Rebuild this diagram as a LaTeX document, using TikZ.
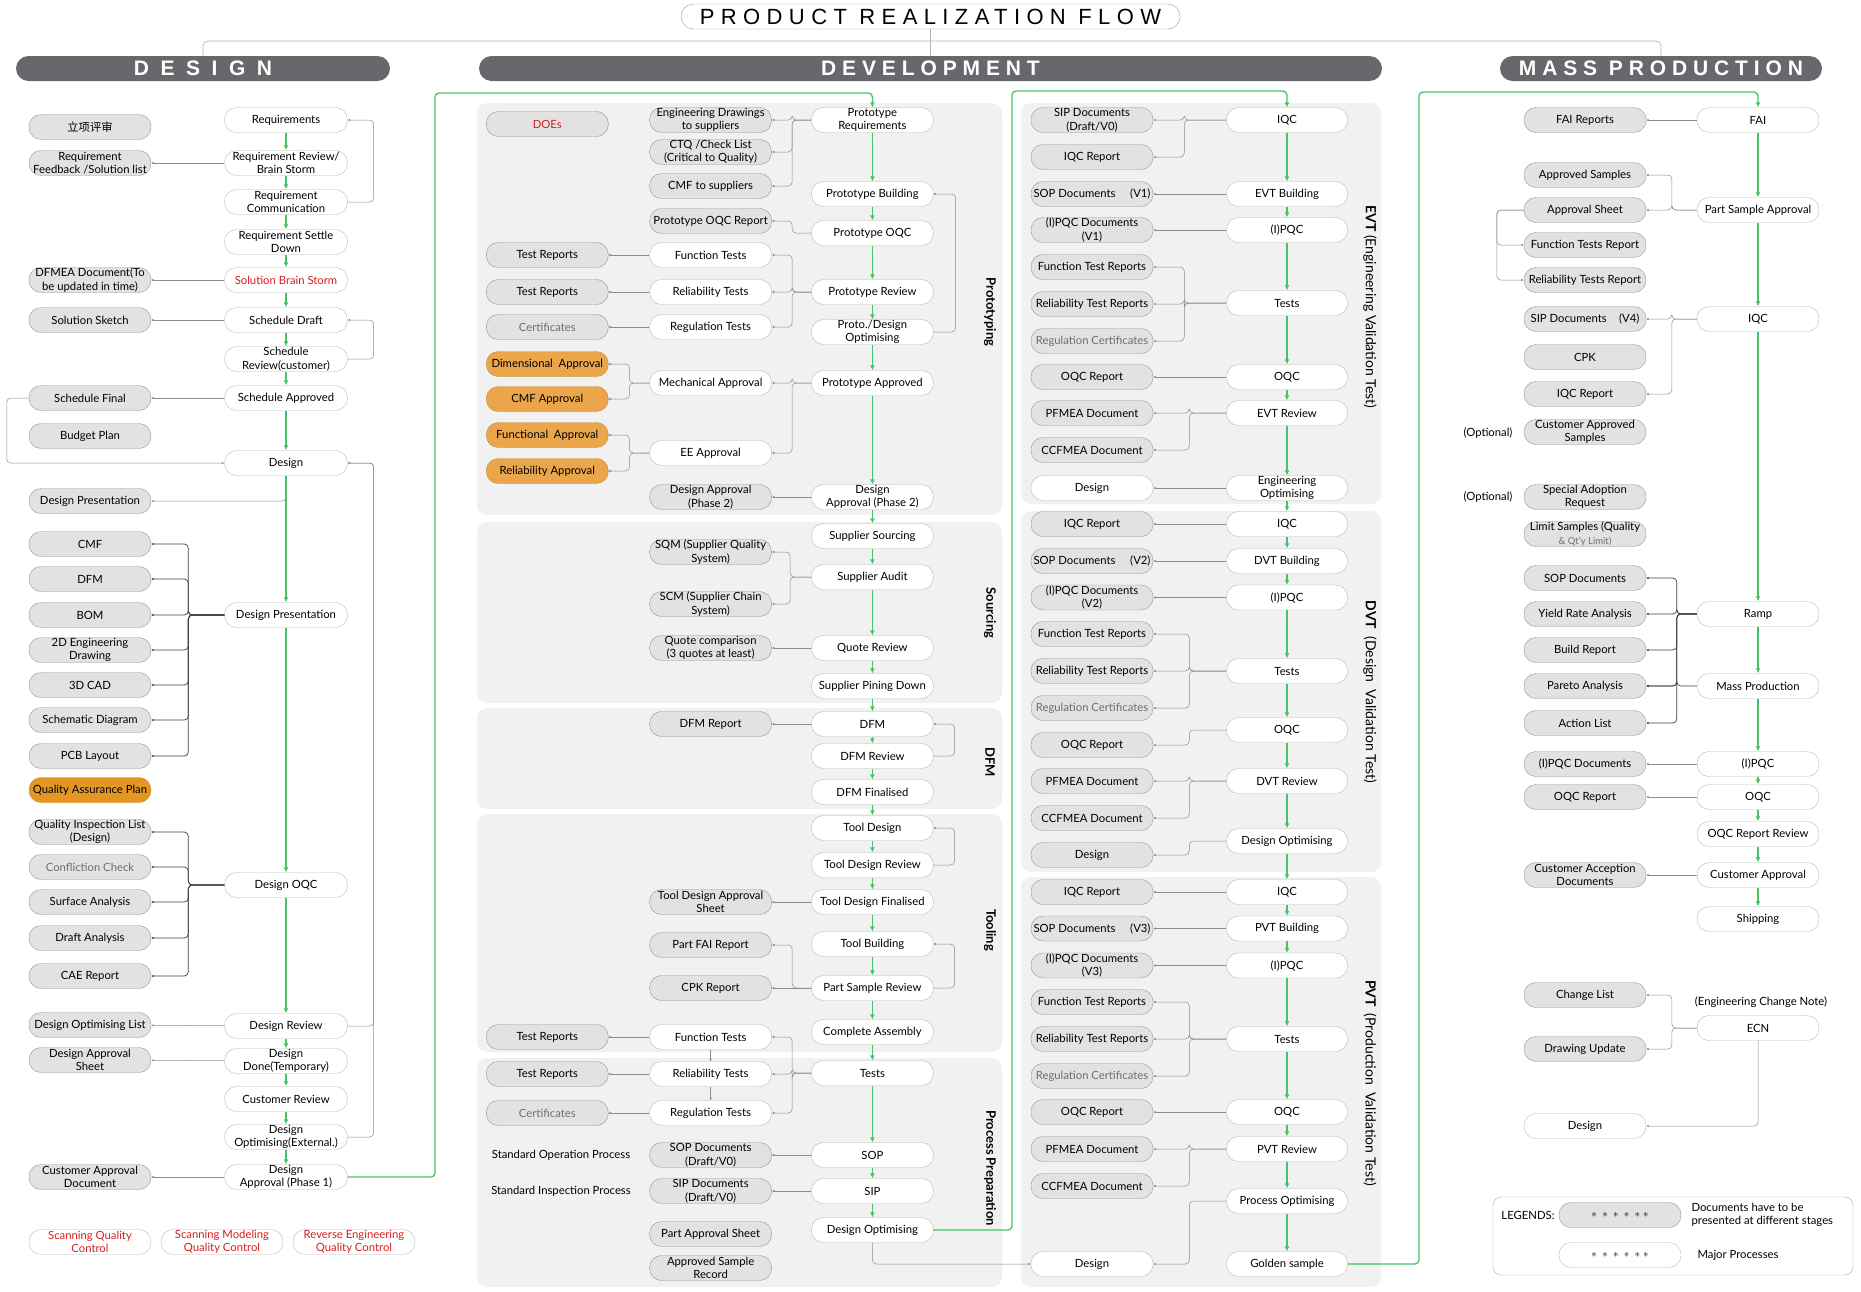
\documentclass[tikz,border=0pt]{standalone}
\usepackage{fontspec}
\setmainfont{Lato}
\newfontfamily\cjk{Noto Sans CJK SC}
\newfontfamily\titlefont[LetterSpace=29]{Liberation Sans}
\newfontfamily\bandfont[LetterSpace=28]{Liberation Sans}
\newfontfamily\bandwide[LetterSpace=55]{Liberation Sans}
\usepackage{tikz}
\usetikzlibrary{positioning,arrows.meta,calc}
\definecolor{bargray}{RGB}{104,103,108}
\definecolor{docgray}{RGB}{226,226,226}
\definecolor{docedge}{RGB}{150,150,150}
\definecolor{procedge}{RGB}{185,185,185}
\definecolor{panelgray}{RGB}{241,241,241}
\definecolor{flowgreen}{RGB}{70,195,100}
\definecolor{approve}{RGB}{235,165,75}
\definecolor{qaorange}{RGB}{228,150,35}
\definecolor{redtxt}{RGB}{215,30,30}
\definecolor{graytxt}{RGB}{110,110,110}
\tikzset{
  >={Latex[length=2mm]},
  proc/.style={draw=procedge, fill=white, rounded corners=12pt, align=center,
    inner xsep=1pt, inner ysep=0pt, minimum height=25pt, minimum width=#1},
  proc/.default=122pt,
  docu/.style={proc=#1, fill=docgray, draw=docedge},
  docu/.default=122pt,
  appro/.style={proc=#1, fill=approve, draw=approve!85!black},
  appro/.default=122pt,
  band/.style={fill=bargray, text=white, rounded corners=12.5pt, minimum height=25pt,
    inner sep=0pt, font=\fontsize{21}{21}\selectfont\bfseries},
  hdr/.style={draw=black!30, line width=0.6pt, rounded corners=5pt},
  panel/.style={fill=panelgray, rounded corners=10pt},
  stage/.style={rotate=-90, font=\fontsize{14}{16}\selectfont},
  phase/.style={rotate=-90, font=\fontsize{13}{15}\selectfont\bfseries},
  flow/.style={-{Latex[length=5pt,width=5pt]}, line width=1.3pt, draw=flowgreen, rounded corners=4pt},
  link/.style={-{Latex[length=2.5pt,width=2.5pt]}, line width=0.5pt, draw=black!45, rounded corners=4pt},
  fork/.style={link, draw=black!75, line width=0.7pt},
}

\begin{document}
\begin{tikzpicture}[x=1pt, y=-1pt, font=\fontsize{11.3}{13.5}\selectfont]
  \useasboundingbox (0,0) rectangle (1861,1291);
  % Title and phase bands
  \node[draw=black!40, fill=white, rounded corners=12.5pt, minimum width=499pt, minimum height=25pt, inner sep=0pt]
    (title) at (930.5,16.5) {\titlefont\fontsize{22}{22}\selectfont PRODUCT REALIZATION FLOW};
  \node[band, minimum width=374pt] (desbar) at (203,68.5) {\bandwide DESIGN};
  \node[band, minimum width=903pt] (devbar) at (930.5,68.5) {\bandfont DEVELOPMENT};
  \node[band, minimum width=322pt] (mpbar)  at (1661,68.5) {\bandfont MASS PRODUCTION};
  \coordinate (hline) at (930.5,41);
  \draw[hdr] (desbar.north) |- (hline) -| (mpbar.north);
  \draw[hdr] (title.south) -- (title.south |- devbar.north);

  % Panels
  \fill[panel] (477,103) rectangle (1002,515);
  \fill[panel] (477,522) rectangle (1002,703);
  \fill[panel] (477,708) rectangle (1002,809);
  \fill[panel] (477,814) rectangle (1002,1052);
  \fill[panel] (477,1058) rectangle (1002,1287);
  \fill[panel] (1021,103) rectangle (1381,504);
  \fill[panel] (1021,511) rectangle (1381,872);
  \fill[panel] (1021,877) rectangle (1381,1287);

  % Design : major processes
  \node[proc=123pt] (req)      at (286,120)  {Requirements};
  \node[proc=123pt] (reqrev)   at (286,163)  {Requirement Review/\\Brain Storm};
  \node[proc=123pt] (reqcom)   at (286,202)  {Requirement\\Communication};
  \node[proc=123pt] (reqset)   at (286,242)  {Requirement Settle\\Down};
  \node[proc=123pt, text=redtxt] (solbs) at (286,280) {Solution Brain Storm};
  \node[proc=123pt] (schdraft) at (286,320)  {Schedule Draft};
  \node[proc=123pt] (schrev)   at (286,359)  {Schedule\\Review(customer)};
  \node[proc=123pt] (schapp)   at (286,398)  {Schedule Approved};
  \node[proc=123pt] (design)   at (286,463)  {Design};
  \node[proc=123pt] (dpres)    at (286,615)  {Design Presentation};
  \node[proc=123pt] (doqc)     at (286,885)  {Design OQC};
  \node[proc=123pt] (drev)     at (286,1026) {Design Review};
  \node[proc=123pt] (ddone)    at (286,1061) {Design\\Done(Temporary)};
  \node[proc=123pt] (custrev)  at (286,1099) {Customer Review};
  \node[proc=123pt] (doptext)  at (286,1137) {Design\\Optimising(External.)};
  \node[proc=123pt] (dapp1)    at (286,1177) {Design\\Approval (Phase 1)};
  % Design : documents
  \node[docu] (lxps)     at (90,127)  {\cjk 立项评审};
  \node[docu] (reqfb)    at (90,163)  {Requirement\\Feedback /Solution list};
  \node[docu] (dfmea)    at (90,280)  {DFMEA Document(To\\be updated in time)};
  \node[docu] (solsk)    at (90,320)  {Solution Sketch};
  \node[docu] (schfin)   at (90,398)  {Schedule Final};
  \node[docu] (budget)   at (90,436)  {Budget Plan};
  \node[docu] (dpresdoc) at (90,501)  {Design Presentation};
  \node[docu] (cmf)      at (90,544)  {CMF};
  \node[docu] (dfm)      at (90,579)  {DFM};
  \node[docu] (bom)      at (90,615)  {BOM};
  \node[docu] (engdraw)  at (90,650)  {2D Engineering\\Drawing};
  \node[docu] (cad)      at (90,685)  {3D CAD};
  \node[docu] (schem)    at (90,720)  {Schematic Diagram};
  \node[docu] (pcb)      at (90,756)  {PCB Layout};
  \node[appro, fill=qaorange] (qap) at (90,790) {Quality Assurance Plan};
  \node[docu] (qil)      at (90,832)  {Quality Inspection List\\(Design)};
  \node[docu, text=graytxt] (confl) at (90,867) {Confliction Check};
  \node[docu] (surf)     at (90,902)  {Surface Analysis};
  \node[docu] (draft)    at (90,938)  {Draft Analysis};
  \node[docu] (cae)      at (90,976)  {CAE Report};
  \node[docu] (doptl)    at (90,1025) {Design Optimising List};
  \node[docu] (dappsh)   at (90,1060) {Design Approval\\Sheet};
  \node[docu] (custdoc)  at (90,1177) {Customer Approval\\Document};
  \node[proc, text=redtxt] (sqc)  at (90,1242)  {Scanning Quality\\Control};
  \node[proc, text=redtxt] (smqc) at (222,1242) {Scanning Modeling\\Quality Control};
  \node[proc, text=redtxt] (reqc) at (354,1242) {Reverse Engineering\\Quality Control};
  % Design : connectors
  \draw[flow] (req) -- (reqrev);
  \draw[flow] (reqrev) -- (reqcom);
  \draw[flow] (reqcom) -- (reqset);
  \draw[flow] (reqset) -- (solbs);
  \draw[flow] (solbs) -- (schdraft);
  \draw[flow] (schdraft) -- (schrev);
  \draw[flow] (schrev) -- (schapp);
  \draw[flow] (schapp) -- (design);
  \draw[link] (design.south) |- (dpresdoc.east);
  \draw[flow] (design) -- (dpres);
  \draw[flow] (dpres) -- (doqc);
  \draw[flow] (doqc) -- (drev);
  \draw[flow] (drev) -- (ddone);
  \draw[flow] (ddone) -- (custrev);
  \draw[flow] (custrev) -- (doptext);
  \draw[flow] (doptext) -- (dapp1);
  \draw[link] (reqrev) -- (reqfb);
  \draw[link] (reqcom.east) -- ++(26,0) |- (req.east);
  \draw[link] (solbs) -- (dfmea);
  \draw[link] (schdraft) -- (solsk);
  \draw[link] (schrev.east) -- ++(26,0) |- (schdraft.east);
  \draw[link] (schapp) -- (schfin);
  \draw[link] (schfin.west) -- ++(-22,0) |- (design.west);
  \draw[link] (drev.east) -- ++(26,0) |- (design.east);
  \draw[link] (doptext.east) -- ++(26,0) |- (design.east);
  \draw[fork] (dpres.west) -- ++(-36,0) |- (cmf.east);
  \draw[fork] (dpres.west) -- ++(-36,0) |- (dfm.east);
  \draw[fork] (dpres.west) -- ++(-36,0) |- (bom.east);
  \draw[fork] (dpres.west) -- ++(-36,0) |- (engdraw.east);
  \draw[fork] (dpres.west) -- ++(-36,0) |- (cad.east);
  \draw[fork] (dpres.west) -- ++(-36,0) |- (schem.east);
  \draw[fork] (dpres.west) -- ++(-36,0) |- (pcb.east);
  \draw[fork] (doqc.west) -- ++(-36,0) |- (qil.east);
  \draw[fork] (doqc.west) -- ++(-36,0) |- (confl.east);
  \draw[fork] (doqc.west) -- ++(-36,0) |- (surf.east);
  \draw[fork] (doqc.west) -- ++(-36,0) |- (draft.east);
  \draw[fork] (doqc.west) -- ++(-36,0) |- (cae.east);
  \draw[link] (drev) -- (doptl);
  \draw[link] (ddone) -- (dappsh);
  \draw[link] (dapp1) -- (custdoc);

  % Development : prototyping to process preparation
  \node[proc] (preq)   at (872.4,120)  {Prototype\\Requirements};
  \node[proc] (pbuild) at (872.4,194)  {Prototype Building};
  \node[proc] (poqc)   at (872.4,233)  {Prototype OQC};
  \node[proc] (prev)   at (872.4,292)  {Prototype Review};
  \node[proc] (popt)   at (872.4,332)  {Proto./Design\\Optimising};
  \node[proc] (pappr)  at (872.4,383)  {Prototype Approved};
  \node[proc] (dapp2)  at (872.4,497)  {Design\\Approval (Phase 2)};
  \node[proc] (ssrc)   at (872.4,536)  {Supplier Sourcing};
  \node[proc] (saud)   at (872.4,577)  {Supplier Audit};
  \node[proc] (qrev)   at (872.4,648)  {Quote Review};
  \node[proc] (spin)   at (872.4,686)  {Supplier Pining Down};
  \node[proc] (dfmm)   at (872.4,724)  {DFM};
  \node[proc] (dfmrev) at (872.4,756)  {DFM Review};
  \node[proc] (dfmfin) at (872.4,792)  {DFM Finalised};
  \node[proc] (tdes)   at (872.4,828)  {Tool Design};
  \node[proc] (tdrev)  at (872.4,865)  {Tool Design Review};
  \node[proc] (tdfin)  at (872.4,902)  {Tool Design Finalised};
  \node[proc] (tbuild) at (872.4,944)  {Tool Building};
  \node[proc] (psrev)  at (872.4,988)  {Part Sample Review};
  \node[proc] (cassy)  at (872.4,1032) {Complete Assembly};
  \node[proc] (ptests) at (872.4,1073) {Tests};
  \node[proc] (sop)    at (872.4,1155) {SOP};
  \node[proc] (sip)    at (872.4,1191) {SIP};
  \node[proc] (devopt) at (872.4,1230) {Design Optimising};
  \node[docu] (engdr)   at (710.6,120)  {Engineering Drawings\\to suppliers};
  \node[docu] (ctq)     at (710.6,152)  {CTQ /Check List\\(Critical to Quality)};
  \node[docu] (cmfsup)  at (710.6,186)  {CMF to suppliers};
  \node[docu] (poqcrep) at (710.6,221)  {Prototype OQC Report};
  \node[proc] (pfunc)   at (710.6,255)  {Function Tests};
  \node[proc] (preli)   at (710.6,292)  {Reliability Tests};
  \node[proc] (preg)    at (710.6,327)  {Regulation Tests};
  \node[proc] (mecha)   at (710.6,383)  {Mechanical Approval};
  \node[proc] (eeapp)   at (710.6,453)  {EE Approval};
  \node[docu] (dapp2doc) at (710.6,497) {Design Approval\\(Phase 2)};
  \node[docu] (sqm)     at (710.6,552)  {SQM (Supplier Quality\\System)};
  \node[docu] (scm)     at (710.6,604)  {SCM (Supplier Chain\\System)};
  \node[docu] (quotec)  at (710.6,648)  {Quote comparison\\(3 quotes at least)};
  \node[docu] (dfmrep)  at (710.6,724)  {DFM Report};
  \node[docu] (tdsheet) at (710.6,902)  {Tool Design Approval\\Sheet};
  \node[docu] (fairep)  at (710.6,945)  {Part FAI Report};
  \node[docu] (cpkrep)  at (710.6,988)  {CPK Report};
  \node[proc] (tfunc)   at (710.6,1037) {Function Tests};
  \node[proc] (treli)   at (710.6,1074) {Reliability Tests};
  \node[proc] (treg)    at (710.6,1113) {Regulation Tests};
  \node[docu] (sopdoc)  at (710.6,1155) {SOP Documents\\(Draft/V0)};
  \node[docu] (sipdoc)  at (710.6,1191) {SIP Documents\\(Draft/V0)};
  \node[docu] (pasheet) at (710.6,1234) {Part Approval Sheet};
  \node[docu] (asrec)   at (710.6,1268) {Approved Sample\\Record};
  \node[docu, text=redtxt]  (does)  at (547.3,124)  {DOEs};
  \node[docu] (ptr1)  at (547.3,255)  {Test Reports};
  \node[docu] (ptr2)  at (547.3,292)  {Test Reports};
  \node[docu, text=graytxt] (pcert) at (547.3,327)  {Certificates};
  \node[appro] (dimap) at (547.3,364) {Dimensional\ \ Approval};
  \node[appro] (cmfap) at (547.3,399) {CMF Approval};
  \node[appro] (funap) at (547.3,435) {Functional\ \ Approval};
  \node[appro] (relap) at (547.3,471) {Reliability Approval};
  \node[docu] (ttr1)  at (547.3,1037) {Test Reports};
  \node[docu] (ttr2)  at (547.3,1074) {Test Reports};
  \node[docu, text=graytxt] (tcert) at (547.3,1113) {Certificates};
  \node (soptxt) at (561,1155) {Standard Operation Process};
  \node (siptxt) at (561,1191) {Standard Inspection Process};
  \node[phase] (lproto) at (990,312)  {Prototyping};
  \node[phase] (lsrc)   at (990,613)  {Sourcing};
  \node[phase] (ldfm)   at (990,762)  {DFM};
  \node[phase] (ltool)  at (990,930)  {Tooling};
  \node[phase] (lprep)  at (990,1168) {Process Preparation};
  % Development : connectors
  \coordinate (g1) at (435,93);
  \draw[flow] (dapp1.east) -| (g1) -| (preq.north);
  \draw[flow] (preq) -- (pbuild);
  \draw[flow] (pbuild) -- (poqc);
  \draw[flow] (poqc) -- (prev);
  \draw[flow] (prev) -- (popt);
  \draw[flow] (popt) -- (pappr);
  \draw[flow] (pappr) -- (dapp2);
  \draw[flow] (dapp2) -- (ssrc);
  \draw[flow] (ssrc) -- (saud);
  \draw[flow] (saud) -- (qrev);
  \draw[flow] (qrev) -- (spin);
  \draw[flow] (spin) -- (dfmm);
  \draw[flow] (dfmm) -- (dfmrev);
  \draw[flow] (dfmrev) -- (dfmfin);
  \draw[flow] (dfmfin) -- (tdes);
  \draw[flow] (tdes) -- (tdrev);
  \draw[flow] (tdrev) -- (tdfin);
  \draw[flow] (tdfin) -- (tbuild);
  \draw[flow] (tbuild) -- (psrev);
  \draw[flow] (psrev) -- (cassy);
  \draw[flow] (cassy) -- (ptests);
  \draw[flow] (ptests) -- (sop);
  \draw[flow] (sop) -- (sip);
  \draw[flow] (sip) -- (devopt);
  \draw[link] (preq.west) -- ++(-19,0) |- (engdr.east);
  \draw[link] (preq.west) -- ++(-19,0) |- (ctq.east);
  \draw[link] (preq.west) -- ++(-19,0) |- (cmfsup.east);
  \draw[link] (poqc.west) -- ++(-19,0) |- (poqcrep.east);
  \draw[link] (prev.west) -- ++(-19,0) |- (pfunc.east);
  \draw[link] (prev.west) -- ++(-19,0) |- (preli.east);
  \draw[link] (prev.west) -- ++(-19,0) |- (preg.east);
  \draw[link] (pfunc) -- (ptr1);
  \draw[link] (preli) -- (ptr2);
  \draw[link] (preg) -- (pcert);
  \draw[link] (popt.east) -- ++(22,0) |- (pbuild.east);
  \draw[link] (pappr.west) -- ++(-19,0) |- (mecha.east);
  \draw[link] (pappr.west) -- ++(-19,0) |- (eeapp.east);
  \draw[link] (mecha.west) -- ++(-20,0) |- (dimap.east);
  \draw[link] (mecha.west) -- ++(-20,0) |- (cmfap.east);
  \draw[link] (eeapp.west) -- ++(-20,0) |- (funap.east);
  \draw[link] (eeapp.west) -- ++(-20,0) |- (relap.east);
  \draw[link] (dapp2) -- (dapp2doc);
  \draw[link] (saud.west) -- ++(-21,0) |- (sqm.east);
  \draw[link] (saud.west) -- ++(-21,0) |- (scm.east);
  \draw[link] (qrev) -- (quotec);
  \draw[link] (dfmm) -- (dfmrep);
  \draw[link] (dfmrev.east) -- ++(21,0) |- (dfmm.east);
  \draw[link] (tdrev.east) -- ++(21,0) |- (tdes.east);
  \draw[link] (tdfin) -- (tdsheet);
  \draw[link] (psrev.west) -- ++(-19,0) |- (fairep.east);
  \draw[link] (psrev) -- (cpkrep);
  \draw[link] (psrev.east) -- ++(21,0) |- (tbuild.east);
  \draw[link] (ptests.west) -- ++(-19,0) |- (tfunc.east);
  \draw[link] (ptests.west) -- ++(-19,0) |- (treli.east);
  \draw[link] (ptests.west) -- ++(-19,0) |- (treg.east);
  \draw[link] (tfunc) -- (treli);
  \draw[link] (treli) -- (treg);
  \draw[link] (tfunc) -- (ttr1);
  \draw[link] (treli) -- (ttr2);
  \draw[link] (treg) -- (tcert);
  \draw[link] (sop) -- (sopdoc);
  \draw[link] (sip) -- (sipdoc);

  % Development : EVT / DVT / PVT
  \node[proc=121pt] (eviqc)   at (1287,120) {IQC};
  \node[proc=121pt] (evbuild) at (1287,194) {EVT Building};
  \node[proc=121pt] (evipqc)  at (1287,230) {(I)PQC};
  \node[proc=121pt] (evtests) at (1287,303) {Tests};
  \node[proc=121pt] (evoqc)   at (1287,377) {OQC};
  \node[proc=121pt] (evrev)   at (1287,413) {EVT Review};
  \node[proc=121pt] (evopt)   at (1287,488) {Engineering\\Optimising};
  \node[docu] (evsip)    at (1092,120) {SIP Documents\\(Draft/V0)};
  \node[docu] (eviqcr)   at (1092,157) {IQC Report};
  \node[docu] (evsop)    at (1092,194) {SOP Documents\hspace{1.3em}(V1)};
  \node[docu] (evipqcd)  at (1092,230) {(I)PQC Documents\\(V1)};
  \node[docu] (evftr)    at (1092,267) {Function Test Reports};
  \node[docu] (evrtr)    at (1092,304) {Reliability Test Reports};
  \node[docu, text=graytxt] (evcert) at (1092,341) {Regulation Certificates};
  \node[docu] (evoqcr)   at (1092,377) {OQC Report};
  \node[docu] (evpfmea)  at (1092,413) {PFMEA Document};
  \node[docu] (evccf)    at (1092,450) {CCFMEA Document};
  \node[proc] (evdesign) at (1092,488) {Design};
  \node[proc=121pt] (dviqc)   at (1287,524)   {IQC};
  \node[proc=121pt] (dvbuild) at (1287,561)   {DVT Building};
  \node[proc=121pt] (dvipqc)  at (1287,597.5) {(I)PQC};
  \node[proc=121pt] (dvtests) at (1287,671)   {Tests};
  \node[proc=121pt] (dvoqc)   at (1287,730)   {OQC};
  \node[proc=121pt] (dvrev)   at (1287,781)   {DVT Review};
  \node[proc=121pt] (dvopt)   at (1287,841)   {Design Optimising};
  \node[docu] (dviqcr)   at (1092,524)   {IQC Report};
  \node[docu] (dvsop)    at (1092,561)   {SOP Documents\hspace{1.3em}(V2)};
  \node[docu] (dvipqcd)  at (1092,597.5) {(I)PQC Documents\\(V2)};
  \node[docu] (dvftr)    at (1092,634)   {Function Test Reports};
  \node[docu] (dvrtr)    at (1092,671)   {Reliability Test Reports};
  \node[docu, text=graytxt] (dvcert) at (1092,708) {Regulation Certificates};
  \node[docu] (dvoqcr)   at (1092,745)   {OQC Report};
  \node[docu] (dvpfmea)  at (1092,781)   {PFMEA Document};
  \node[docu] (dvccf)    at (1092,818)   {CCFMEA Document};
  \node[docu] (dvdesign) at (1092,855)   {Design};
  \node[proc=121pt] (pviqc)   at (1287,892)    {IQC};
  \node[proc=121pt] (pvbuild) at (1287,928.5)  {PVT Building};
  \node[proc=121pt] (pvipqc)  at (1287,965.5)  {(I)PQC};
  \node[proc=121pt] (pvtests) at (1287,1039)   {Tests};
  \node[proc=121pt] (pvoqc)   at (1287,1112)   {OQC};
  \node[proc=121pt] (pvrev)   at (1287,1149)   {PVT Review};
  \node[proc=121pt] (pvopt)   at (1287,1201)   {Process Optimising};
  \node[proc=121pt] (golden)  at (1287,1264)   {Golden sample};
  \node[docu] (pviqcr)   at (1092,892)    {IQC Report};
  \node[docu] (pvsop)    at (1092,928.5)  {SOP Documents\hspace{1.3em}(V3)};
  \node[docu] (pvipqcd)  at (1092,965.5)  {(I)PQC Documents\\(V3)};
  \node[docu] (pvftr)    at (1092,1002)   {Function Test Reports};
  \node[docu] (pvrtr)    at (1092,1039)   {Reliability Test Reports};
  \node[docu, text=graytxt] (pvcert) at (1092,1076) {Regulation Certificates};
  \node[docu] (pvoqcr)   at (1092,1112)   {OQC Report};
  \node[docu] (pvpfmea)  at (1092,1149)   {PFMEA Document};
  \node[docu] (pvccf)    at (1092,1186)   {CCFMEA Document};
  \node[proc] (pvdesign) at (1092,1264)   {Design};
  \node[stage] (levt) at (1370,307)  {\textbf{EVT} (Engineering Validation Test)};
  \node[stage] (ldvt) at (1370,692)  {\textbf{DVT}\ \ (Design\ \ Validation Test)};
  \node[stage] (lpvt) at (1370,1083) {\textbf{PVT}\ \ (Production\ \ Validation Test)};
  % EVT / DVT / PVT : connectors
  \coordinate (g2) at (1012,91);
  \draw[flow] (devopt.east) -| (g2) -| (eviqc.north);
  \draw[link] (devopt.south) |- (pvdesign.west);
  \draw[flow] (eviqc) -- (evbuild);
  \draw[flow] (evbuild) -- (evipqc);
  \draw[flow] (evipqc) -- (evtests);
  \draw[flow] (evtests) -- (evoqc);
  \draw[flow] (evoqc) -- (evrev);
  \draw[flow] (evrev) -- (evopt);
  \draw[flow] (evopt) -- (dviqc);
  \draw[flow] (dviqc) -- (dvbuild);
  \draw[flow] (dvbuild) -- (dvipqc);
  \draw[flow] (dvipqc) -- (dvtests);
  \draw[flow] (dvtests) -- (dvoqc);
  \draw[flow] (dvoqc) -- (dvrev);
  \draw[flow] (dvrev) -- (dvopt);
  \draw[flow] (dvopt) -- (pviqc);
  \draw[flow] (pviqc) -- (pvbuild);
  \draw[flow] (pvbuild) -- (pvipqc);
  \draw[flow] (pvipqc) -- (pvtests);
  \draw[flow] (pvtests) -- (pvoqc);
  \draw[flow] (pvoqc) -- (pvrev);
  \draw[flow] (pvrev) -- (pvopt);
  \draw[flow] (pvopt) -- (golden);
  \draw[link] (eviqc.west) -- ++(-42,0) |- (evsip.east);
  \draw[link] (eviqc.west) -- ++(-42,0) |- (eviqcr.east);
  \draw[link] (evbuild) -- (evsop);
  \draw[link] (evipqc) -- (evipqcd);
  \draw[link] (evtests.west) -- ++(-42,0) |- (evftr.east);
  \draw[link] (evtests.west) -- ++(-42,0) |- (evrtr.east);
  \draw[link] (evtests.west) -- ++(-42,0) |- (evcert.east);
  \draw[link] (evoqc) -- (evoqcr);
  \draw[link] (evrev.west) -- ++(-37,0) |- (evpfmea.east);
  \draw[link] (evrev.west) -- ++(-37,0) |- (evccf.east);
  \draw[link] (evopt) -- (evdesign);
  \draw[link] (dviqc) -- (dviqcr);
  \draw[link] (dvbuild) -- (dvsop);
  \draw[link] (dvipqc) -- (dvipqcd);
  \draw[link] (dvtests.west) -- ++(-37,0) |- (dvftr.east);
  \draw[link] (dvtests.west) -- ++(-37,0) |- (dvrtr.east);
  \draw[link] (dvtests.west) -- ++(-37,0) |- (dvcert.east);
  \draw[link] (dvoqc.west) -- ++(-37,0) |- (dvoqcr.east);
  \draw[link] (dvrev.west) -- ++(-37,0) |- (dvpfmea.east);
  \draw[link] (dvrev.west) -- ++(-37,0) |- (dvccf.east);
  \draw[link] (dvopt.west) -- ++(-37,0) |- (dvdesign.east);
  \draw[link] (pviqc) -- (pviqcr);
  \draw[link] (pvbuild) -- (pvsop);
  \draw[link] (pvipqc) -- (pvipqcd);
  \draw[link] (pvtests.west) -- ++(-37,0) |- (pvftr.east);
  \draw[link] (pvtests.west) -- ++(-37,0) |- (pvrtr.east);
  \draw[link] (pvtests.west) -- ++(-37,0) |- (pvcert.east);
  \draw[link] (pvoqc) -- (pvoqcr);
  \draw[link] (pvrev.west) -- ++(-37,0) |- (pvpfmea.east);
  \draw[link] (pvrev.west) -- ++(-37,0) |- (pvccf.east);
  \draw[link] (pvopt.west) -- ++(-37,0) |- (pvdesign.east);

  % Mass production
  \node[proc] (fai)     at (1758,120)  {FAI};
  \node[proc] (psa)     at (1758,210)  {Part Sample Approval};
  \node[proc] (mpiqc)   at (1758,319)  {IQC};
  \node[proc] (ramp)    at (1758,614)  {Ramp};
  \node[proc] (massp)   at (1758,686)  {Mass Production};
  \node[proc] (mpipqc)  at (1758,764)  {(I)PQC};
  \node[proc] (mpoqc)   at (1758,797)  {OQC};
  \node[proc] (oqcrr)   at (1758,834)  {OQC Report Review};
  \node[proc] (custapp) at (1758,875)  {Customer Approval};
  \node[proc] (ship)    at (1758,919)  {Shipping};
  \node[proc] (ecn)     at (1758,1028) {ECN};
  \node[docu] (faire)    at (1585,120)  {FAI Reports};
  \node[docu] (apsam)    at (1585,175)  {Approved Samples};
  \node[docu] (apsheet)  at (1585,210)  {Approval Sheet};
  \node[docu] (ftrep)    at (1585,245)  {Function Tests Report};
  \node[docu] (rtrep)    at (1585,280)  {Reliability Tests Report};
  \node[docu] (mpsip)    at (1585,319)  {SIP Documents\hspace{1.1em}(V4)};
  \node[docu] (cpk)      at (1585,357)  {CPK};
  \node[docu] (mpiqcr)   at (1585,394)  {IQC Report};
  \node[docu] (casam)    at (1585,432)  {Customer Approved\\Samples};
  \node[docu] (sar)      at (1585,497)  {Special Adoption\\Request};
  \node[docu] (limsam)   at (1585,534)  {Limit Samples (Quality\\{\color{graytxt}\fontsize{9.5}{11}\selectfont\& Qt'y Limit)}};
  \node[docu] (mpsop)    at (1585,578)  {SOP Documents};
  \node[docu] (yield)    at (1585,614)  {Yield Rate Analysis};
  \node[docu] (buildrep) at (1585,650)  {Build Report};
  \node[docu] (pareto)   at (1585,686)  {Pareto Analysis};
  \node[docu] (action)   at (1585,723)  {Action List};
  \node[docu] (mpipqcd)  at (1585,764)  {(I)PQC Documents};
  \node[docu] (mpoqcr)   at (1585,797)  {OQC Report};
  \node[docu] (cacdoc)   at (1585,875)  {Customer Acception\\Documents};
  \node[docu] (chlist)   at (1585,995)  {Change List};
  \node[docu] (drupd)    at (1585,1049) {Drawing Update};
  \node[proc] (mpdesign) at (1585,1126) {Design};
  \node (opt1)    at (1488,433)  {(Optional)};
  \node (opt2)    at (1488,497)  {(Optional)};
  \node (ecnnote) at (1761,1002) {(Engineering Change Note)};
  % Mass production : connectors
  \coordinate (g3) at (1419,92);
  \draw[flow] (golden.east) -| (g3) -| (fai.north);
  \draw[flow] (fai) -- (psa);
  \draw[flow] (psa) -- (mpiqc);
  \draw[flow] (mpiqc) -- (ramp);
  \draw[flow] (ramp) -- (massp);
  \draw[flow] (massp) -- (mpipqc);
  \draw[flow] (mpipqc) -- (mpoqc);
  \draw[flow] (mpoqc) -- (oqcrr);
  \draw[flow] (oqcrr) -- (custapp);
  \draw[flow] (custapp) -- (ship);
  \draw[link] (fai) -- (faire);
  \draw[link] (psa.west) -- ++(-25,0) |- (apsam.east);
  \draw[link] (psa.west) -- ++(-25,0) |- (apsheet.east);
  \draw[link] (apsheet.west) -- ++(-27,0) |- (ftrep.west);
  \draw[link] (apsheet.west) -- ++(-27,0) |- (rtrep.west);
  \draw[link] (mpiqc.west) -- ++(-25,0) |- (mpsip.east);
  \draw[link] (mpiqc.west) -- ++(-25,0) |- (mpiqcr.east);
  \draw[fork] (ramp.west) -- ++(-20,0) |- (mpsop.east);
  \draw[fork] (ramp.west) -- ++(-20,0) |- (yield.east);
  \draw[fork] (ramp.west) -- ++(-20,0) |- (buildrep.east);
  \draw[fork] (ramp.west) -- ++(-20,0) |- (pareto.east);
  \draw[fork] (ramp.west) -- ++(-20,0) |- (action.east);
  \draw[fork] (massp.west) -- ++(-20,0) |- (pareto.east);
  \draw[link] (mpipqc) -- (mpipqcd);
  \draw[link] (mpoqc) -- (mpoqcr);
  \draw[link] (custapp) -- (cacdoc);
  \draw[link] (ecn.west) -- ++(-25,0) |- (chlist.east);
  \draw[link] (ecn.west) -- ++(-25,0) |- (drupd.east);
  \draw[link] (ecn.south) |- (mpdesign.east);

  % Legend
  \draw[draw=black!35, rounded corners=8pt] (1493,1197) rectangle (1853,1275);
  \node (legtxt) at (1528,1215) {LEGENDS:};
  \node[docu] (legdoc) at (1620,1215) {$\ast\ \ast\ \ast\ \ast\ \ast\ \ast$};
  \node[anchor=west, align=left] (legdtxt) at (1688,1215) {Documents have to be\\ presented at different stages};
  \node[proc] (legproc) at (1620,1255) {$\ast\ \ast\ \ast\ \ast\ \ast\ \ast$};
  \node[anchor=west] (legptxt) at (1694,1255) {Major Processes};
\end{tikzpicture}
\end{document}
